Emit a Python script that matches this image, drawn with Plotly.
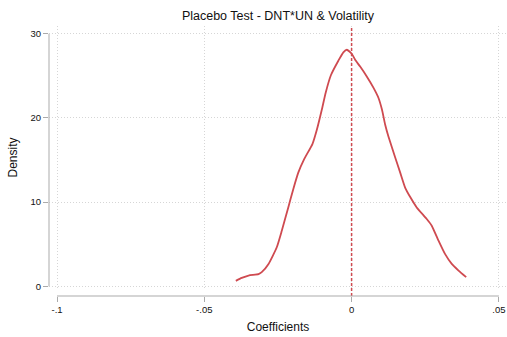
import plotly.graph_objects as go

coef = [-0.0393, -0.0373, -0.0350, -0.0316, -0.0305, -0.0282, -0.0254, -0.0237, -0.0215, -0.0198,
        -0.0181, -0.0161, -0.0133, -0.0118, -0.0101, -0.0088, -0.0070, -0.0045,
        -0.0028, -0.0016, 0.0001, 0.0012, 0.0029, 0.0052, 0.0074, 0.0091, 0.0103, 0.0114,
        0.0125, 0.0148, 0.0165, 0.0182, 0.0199, 0.0221, 0.0255, 0.0272, 0.0295, 0.0317,
        0.0340, 0.0363, 0.0389]
density = [0.65, 1.0, 1.28, 1.44, 1.68, 2.66, 4.64, 6.6, 9.37, 11.54,
           13.5, 15.1, 16.9, 18.6, 21.0, 23.0, 25.1, 26.8,
           27.8, 28.1, 27.6, 26.9, 26.1, 24.9, 23.6, 22.4, 21.0, 19.2,
           17.8, 15.3, 13.5, 11.7, 10.6, 9.37, 7.99, 7.2, 5.42, 3.85,
           2.66, 1.87, 1.09]

x_ticks = [-0.1, -0.05, 0, 0.05]
x_ticklabels = ["-.1", "-.05", "0", ".05"]
y_ticks = [0, 10, 20, 30]
y_ticklabels = ["0", "10", "20", "30"]
ref_line = 0

RED = "#cf4a50"
GRID = "#d6d6d6"
AXIS = "#ababab"
TXT = "#111111"
FONT = "Liberation Sans, Arial, sans-serif"
XRANGE = [-0.10272, 0.05275]

fig = go.Figure()
fig.add_trace(go.Scatter(x=coef, y=density, mode="lines",
                         line=dict(color=RED, width=1.8, shape="spline", smoothing=0.5),
                         showlegend=False, hoverinfo="skip"))
# invisible trace to activate the offset tick axis
fig.add_trace(go.Scatter(x=[x_ticks[0]], y=[y_ticks[0]], xaxis="x2", mode="markers",
                         marker=dict(opacity=0), showlegend=False, hoverinfo="skip"))

fig.add_shape(type="line", xref="x", yref="paper", x0=ref_line, x1=ref_line, y0=0, y1=0.993,
              line=dict(color=RED, width=1.5, dash="3px,2px"))
# Stata-style axis lines spanning tick range only
fig.add_shape(type="line", xref="x", yref="paper", x0=x_ticks[0], x1=x_ticks[-1], y0=0, y1=0,
              line=dict(color=AXIS, width=1))
fig.add_shape(type="line", xref="paper", yref="y", x0=0, x1=0, y0=y_ticks[0], y1=y_ticks[-1],
              line=dict(color=AXIS, width=1))

fig.update_layout(
    width=507, height=337,
    margin=dict(l=49, r=0, t=26, b=41),
    paper_bgcolor="white", plot_bgcolor="white",
    font=dict(family=FONT, color=TXT, size=10),
    title=dict(text="Placebo Test - DNT*UN & Volatility", x=0.5, xref="paper", xanchor="center",
               y=1 - 16 / 337, yref="container", yanchor="middle",
               font=dict(size=12.5, family=FONT, color=TXT)),
    xaxis=dict(range=XRANGE, tickvals=x_ticks, showticklabels=False, ticks="",
               showline=False, zeroline=False,
               showgrid=True, gridcolor=GRID, griddash="1px,2px", gridwidth=1),
    xaxis2=dict(range=XRANGE, overlaying="x", anchor="free", position=0, side="bottom",
                tickvals=x_ticks, ticktext=x_ticklabels,
                showline=False, zeroline=False, showgrid=False,
                ticks="outside", ticklen=5, tickcolor=AXIS, tickwidth=1,
                tickfont=dict(size=9.5, family=FONT, color=TXT),
                title=dict(text="Coefficients", font=dict(size=12, family=FONT, color=TXT), standoff=8)),
    yaxis=dict(range=[-0.32, 30.92], domain=[7 / 270, 1], tickvals=y_ticks, ticktext=y_ticklabels,
               showline=False, zeroline=False,
               showgrid=True, gridcolor=GRID, griddash="1px,2px", gridwidth=1,
               ticks="outside", ticklen=5, tickcolor=AXIS, tickwidth=1,
               tickfont=dict(size=9.5, family=FONT, color=TXT),
               title=dict(text="Density", font=dict(size=12, family=FONT, color=TXT), standoff=10)),
)

fig.write_html("out.html")
